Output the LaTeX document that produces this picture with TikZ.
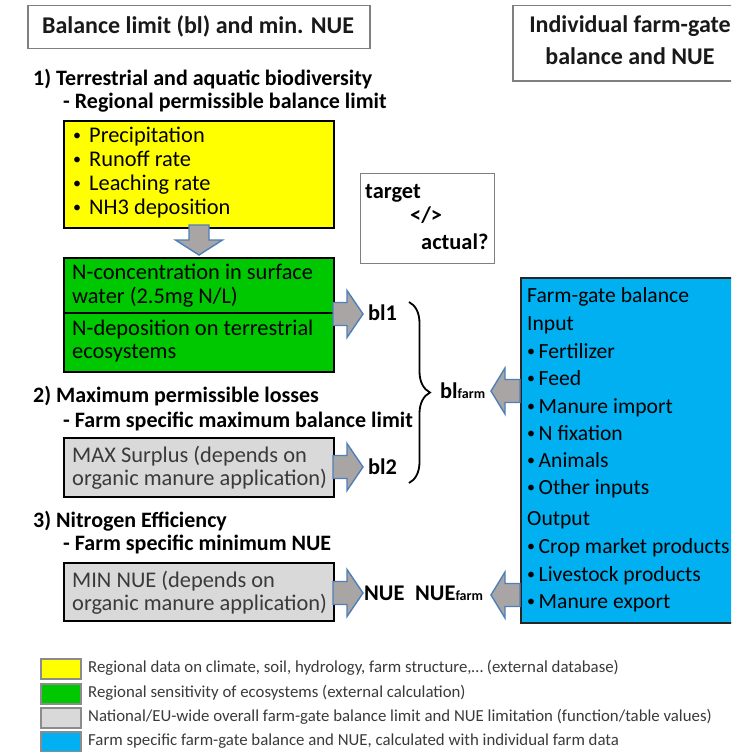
\documentclass[tikz,border=0pt]{standalone}
\usepackage{fontspec}
\setmainfont{Carlito}
\usetikzlibrary{decorations.pathreplacing}
\definecolor{ylw}{HTML}{FFFF00}
\definecolor{grn}{HTML}{00C800}
\definecolor{gry}{HTML}{D9D9D9}
\definecolor{blu}{HTML}{00B0F0}
\definecolor{arrfill}{HTML}{A9A5A5}
\definecolor{arrline}{HTML}{4F7FB8}
\definecolor{frame}{HTML}{7F7F7F}
\definecolor{dtxt}{HTML}{3A3A3A}
\tikzset{
  barrow/.style={fill=arrfill, draw=arrline, line width=1.4pt, line join=miter},
  rarrow/.pic={\draw[barrow] (0,-11.5) -- (14,-11.5) -- (14,-23.5) -- (30,0) -- (14,23.5) -- (14,11.5) -- (0,11.5) -- cycle;},
  larrow/.pic={\draw[barrow] (0,-11.5) -- (-15,-11.5) -- (-15,-23) -- (-29,0) -- (-15,23) -- (-15,11.5) -- (0,11.5) -- cycle;},
  darrow/.pic={\draw[barrow] (-10,0) -- (10,0) -- (10,15) -- (23.5,15) -- (0,30) -- (-23.5,15) -- (-10,15) -- cycle;},
  boxnode/.style={draw=black, line width=1.8pt, anchor=north west, inner sep=0pt, rectangle},
  frameb/.style={draw=frame, line width=1.5pt, anchor=north west, inner sep=0pt, rectangle, fill=white},
  txt/.style={anchor=base west, inner sep=0pt, font=\fontsize{22.4}{26}\selectfont},
  btxt/.style={anchor=base west, inner sep=0pt, font=\fontsize{21.6}{26}\selectfont},
  gtxt/.style={txt, text=dtxt},
  hd/.style={anchor=base west, inner sep=0pt, font=\fontsize{22}{26}\selectfont\bfseries},
  lbl/.style={anchor=base west, inner sep=0pt, font=\fontsize{22.4}{26}\selectfont\bfseries},
  ttl/.style={anchor=base, inner sep=0pt, font=\fontsize{24}{28}\selectfont\bfseries, text=black!90},
  swatch/.style={draw=frame!90, line width=1.5pt, anchor=north west, inner sep=0pt, minimum width=40pt, minimum height=20pt},
  legt/.style={anchor=base west, inner sep=0pt, font=\fontsize{16.8}{20}\selectfont, text=dtxt},
}
\newcommand{\bul}{\makebox[16pt][l]{\raisebox{2pt}{\fontsize{16}{16}\selectfont•}}}
\newcommand{\bulb}{\makebox[11.5pt][l]{\raisebox{2pt}{\fontsize{16}{16}\selectfont•}}}
\newcommand{\farmsub}{{\fontsize{14}{16}\selectfont farm}}
\begin{document}
\begin{tikzpicture}[x=1pt,y=-1pt]
\useasboundingbox (0,0) rectangle (731,752);
\clip (0,0) rectangle (731,752);
\fill[white] (0,0) rectangle (731,752);

% titles
\node[frameb, minimum width=342pt, minimum height=43pt] (t1) at (27,5) {};
\node[ttl] (t1a) at (198,34) {Balance limit (bl) and min. NUE};
\node[frameb, minimum width=260pt, minimum height=75pt] (t2) at (512,5) {};
\node[ttl] (t2a) at (630,33) {Individual farm-gate};
\node[ttl] (t2b) at (630,65) {balance and NUE};

% section 1
\node[hd] (h1) at (33,85) {1) Terrestrial and aquatic biodiversity};
\node[hd] (h1b) at (63,108) {- Regional permissible balance limit};
\node[boxnode, fill=ylw, minimum width=270pt, minimum height=107pt] (yb) at (63,120) {};
\node[txt] (y1) at (73,142) {\bul Precipitation};
\node[txt] (y2) at (73,166) {\bul Runoff rate};
\node[txt] (y3) at (73,190) {\bul Leaching rate};
\node[txt] (y4) at (73,214) {\bul NH3 deposition};
\pic at (199,225) {darrow};
\node[boxnode, fill=grn, minimum width=270pt, minimum height=114pt] (gb) at (63,257) {};
\draw[line width=1.8pt] (gb.west |- 0,313) -- (gb.east |- 0,313);
\node[txt] (g1) at (72,279) {N-concentration in surface};
\node[txt] (g2) at (72,303) {water (2.5mg N/L)};
\node[txt] (g3) at (72,335) {N-deposition on terrestrial};
\node[txt] (g4) at (72,358) {ecosystems};
\pic at (333,314) {rarrow};
\node[lbl] (bl1) at (368,320) {bl1};

% target box
\node[frameb, draw=frame, line width=1pt, minimum width=134pt, minimum height=90pt] (tb) at (360,173) {};
\node[lbl] (ta) at (365,198) {target};
\node[lbl] (tb2) at (410,222) {</>};
\node[lbl] (tc) at (421,249) {actual?};

% section 2
\node[hd] (h2) at (33,402) {2) Maximum permissible losses};
\node[hd] (h2b) at (63,427) {- Farm specific maximum balance limit};
\node[boxnode, fill=gry, minimum width=270pt, minimum height=59pt] (mb) at (63,437) {};
\node[gtxt] (m1) at (72,462) {MAX Surplus (depends on};
\node[gtxt] (m2) at (72,485) {organic manure application)};
\pic at (333,467) {rarrow};
\node[lbl] (bl2) at (368,474) {bl2};

% brace and blfarm
\draw[decorate, decoration={brace, amplitude=21pt}, line width=1.8pt] (409,302) -- (409,483);
\node[lbl] (blf) at (440,398) {bl\farmsub};

% section 3
\node[hd] (h3) at (33,527) {3) Nitrogen Efficiency};
\node[hd] (h3b) at (63,550) {- Farm specific minimum NUE};
\node[boxnode, fill=gry, minimum width=270pt, minimum height=58pt] (nb) at (63,562) {};
\node[gtxt] (n1) at (72,587) {MIN NUE (depends on};
\node[gtxt] (n2) at (72,610) {organic manure application)};
\pic at (333,593) {rarrow};
\node[lbl] (nue) at (364,600) {NUE};
\node[lbl] (nuef) at (415,600) {NUE\farmsub};

% farm-gate box
\node[boxnode, draw=black!85, line width=1.5pt, fill=blu, minimum width=240pt, minimum height=345pt] (fb) at (520,277) {};
\pic at (520,391) {larrow};
\pic at (520,595) {larrow};
\node[btxt] (f0) at (527,302) {Farm-gate balance};
\node[btxt] (f1) at (527,330) {Input};
\node[btxt] (f2) at (527,358) {\bulb Fertilizer};
\node[btxt] (f3) at (527,385) {\bulb Feed};
\node[btxt] (f4) at (527,413) {\bulb Manure import};
\node[btxt] (f5) at (527,440) {\bulb N fixation};
\node[btxt] (f6) at (527,467) {\bulb Animals};
\node[btxt] (f7) at (527,494) {\bulb Other inputs};
\node[btxt] (f8) at (527,525) {Output};
\node[btxt] (f9) at (527,553) {\bulb Crop market products};
\node[btxt] (f10) at (527,581) {\bulb Livestock products};
\node[btxt] (f11) at (527,608) {\bulb Manure export};

% legend
\node[swatch, fill=ylw] (s1) at (40,658) {};
\node[swatch, fill=grn] (s2) at (40,683) {};
\node[swatch, fill=gry] (s3) at (40,707) {};
\node[swatch, fill=blu] (s4) at (40,731) {};
\node[legt] (l1) at (88,672) {Regional data on climate, soil, hydrology, farm structure,… (external database)};
\node[legt] (l2) at (88,697) {Regional sensitivity of ecosystems (external calculation)};
\node[legt] (l3) at (88,721) {National/EU-wide overall farm-gate balance limit and NUE limitation (function/table values)};
\node[legt] (l4) at (88,745) {Farm specific farm-gate balance and NUE, calculated with individual farm data};
\end{tikzpicture}
\end{document}
